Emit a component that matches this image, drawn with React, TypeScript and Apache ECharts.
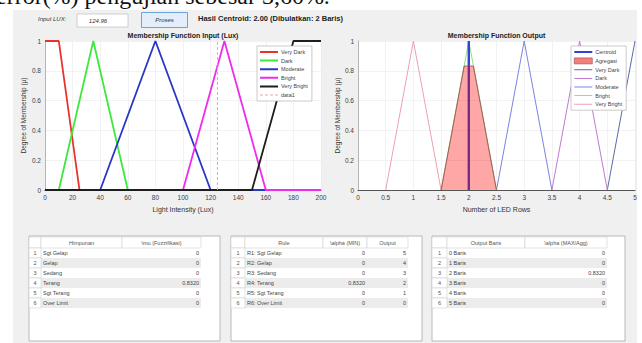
import React, { useEffect, useRef } from "react";
import * as echarts from "echarts";

const FONT = "'Liberation Sans', Arial, Helvetica, sans-serif";

// ---- Input membership functions (Lux) ----
const luxVeryDark = [[0, 1], [10, 1], [25, 0], [200, 0]];
const luxDark = [[0, 0], [10, 0], [35, 1], [60, 0], [200, 0]];
const luxModerate = [[0, 0], [40, 0], [80, 1], [120, 0], [200, 0]];
const luxBright = [[0, 0], [100, 0], [130, 1], [160, 0], [200, 0]];
const luxVeryBright = [[0, 0], [150, 0], [180, 1], [200, 1]];
const inputLux = 124.96;
const inputMarker = [[inputLux, 0], [inputLux, 1]];

// ---- Output membership functions (LED rows) ----
const outVeryDark = [[4.5, 0], [5, 1]];
const outDark = [[3.5, 0], [4, 1], [4.5, 0]];
const outModerate = [[2.5, 0], [3, 1], [3.5, 0]];
const outBright = [[1.5, 0], [2, 1], [2.5, 0]];
const outVeryBright = [[0.5, 0], [1, 1], [1.5, 0]];
const aggregate = [[1.5, 0], [1.916, 0.832], [2.084, 0.832], [2.5, 0]];
const centroidValue = 2.0;
const centroidLine = [[centroidValue, 0], [centroidValue, 1]];

// ---- Tables ----
const fuzzySets = ["Sgt Gelap", "Gelap", "Sedang", "Terang", "Sgt Terang", "Over Limit"];
const fuzzyMu = [0, 0, 0, 0.832, 0, 0];
const ruleNames = ["R1: Sgt Gelap", "R2: Gelap", "R3: Sedang", "R4: Terang", "R5: Sgt Terang", "R6: Over Limit"];
const ruleAlpha = [0, 0, 0, 0.832, 0, 0];
const ruleOutput = [5, 4, 3, 2, 1, 0];
const outputBaris = ["0 Baris", "1 Baris", "2 Baris", "3 Baris", "4 Baris", "5 Baris"];
const outputAlpha = [0, 0, 0.832, 0, 0, 0];

const fmt = (v: number) => (v === 0 ? "0" : v.toFixed(4));

// legend icons (bounding box 18 x 6, thin bar in the middle)
const lineIcon = (t: number) =>
  `path://M0,0h0.01v0.01h-0.01z M0,${3 - t / 2}h18v${t}h-18z M0,5.99h0.01v0.01h-0.01z`;
const dashIcon = `path://M0,0h0.01v0.01h-0.01z M0,2.5h3v1h-3z M5,2.5h3v1h-3z M10,2.5h3v1h-3z M15,2.5h3v1h-3z M0,5.99h0.01v0.01h-0.01z`;

function txt(x: number, y: number, text: string, opts: any = {}) {
  const align = opts.align || "left";
  const va = opts.va || "middle";
  return {
    type: "text",
    x,
    y,
    z: opts.z ?? 20,
    style: {
      text,
      fontSize: opts.size || 6,
      fontFamily: opts.family || FONT,
      fontWeight: opts.weight || "normal",
      fontStyle: opts.style || "normal",
      fill: opts.color || "#333",
      textAlign: align,
      align,
      textVerticalAlign: va,
      verticalAlign: va,
    },
  };
}

function rect(x: number, y: number, w: number, h: number, fill: string, stroke?: string, lw = 0.8, z = 15) {
  return {
    type: "rect",
    z,
    shape: { x, y, width: w, height: h },
    style: { fill, stroke: stroke || "none", lineWidth: lw },
  };
}

function buildTable(edges: number[], panelRight: number, headers: string[], cols: string[][], aligns: string[]) {
  const els: any[] = [];
  const top = 236;
  const bottom = 341;
  const headTop = 237;
  const headH = 11;
  const rowH = 10;
  els.push(rect(edges[0], top, panelRight - edges[0], bottom - top, "#ffffff", "#a8a8a8", 0.8, 12));
  for (let c = 0; c < edges.length - 1; c++) {
    els.push(rect(edges[c], headTop, edges[c + 1] - edges[c], headH, "#ffffff", "#d2d2d2", 0.6, 13));
    if (c > 0) {
      els.push(txt((edges[c] + edges[c + 1]) / 2, headTop + headH / 2, headers[c - 1], { align: "center", size: 5.5, color: "#555" }));
    }
  }
  const n = cols[0].length;
  for (let r = 0; r < n; r++) {
    const y = headTop + headH + r * rowH;
    if (r % 2 === 1) {
      els.push(rect(edges[1], y, edges[edges.length - 1] - edges[1], rowH, "#ececec", undefined, 0, 13));
    }
    els.push(rect(edges[0], y, edges[1] - edges[0], rowH, "#ffffff", "#d2d2d2", 0.6, 13));
    els.push(txt((edges[0] + edges[1]) / 2, y + rowH / 2, String(r + 1), { align: "center", size: 5.5, color: "#555" }));
    for (let c = 0; c < cols.length; c++) {
      const a = aligns[c];
      const x = a === "left" ? edges[c + 1] + 2 : edges[c + 2] - 2;
      els.push(txt(x, y + rowH / 2, cols[c][r], { align: a, size: 5.5, color: "#444" }));
    }
  }
  return els;
}

function lineSeries(name: string, data: number[][], color: string, axis: number, width: number, z = 2, extra: any = {}) {
  return {
    type: "line",
    name,
    xAxisIndex: axis,
    yAxisIndex: axis,
    data,
    symbol: "none",
    showSymbol: false,
    z,
    itemStyle: { color },
    lineStyle: { color, width, ...(extra.lineStyle || {}) },
    ...(extra.areaStyle ? { areaStyle: extra.areaStyle } : {}),
    animation: false,
  };
}

export default function App() {
  const ref = useRef<HTMLDivElement>(null);

  useEffect(() => {
    if (!ref.current) return;
    const chart = echarts.init(ref.current, undefined, { renderer: "svg", width: 642, height: 343 });

    const axisLabel = { fontSize: 6.5, color: "#404040", fontFamily: FONT, margin: 4 };
    const splitLine = { show: true, lineStyle: { color: "#e9e9e9", width: 0.6 } };
    const nameStyle = { fontSize: 7, color: "#333", fontFamily: FONT };

    const graphic: any[] = [];
    // top document text (cut off by the page edge, as in the reference)
    graphic.push(txt(-4, 8, "error(%) pengujian sebesar 3,60%.", { size: 24, family: "'Liberation Serif', 'Times New Roman', serif", color: "#111", va: "bottom", z: 5 }));
    // GUI controls
    graphic.push(txt(38, 18.5, "Input LUX:", { size: 6, style: "italic", color: "#333" }));
    graphic.push(rect(77, 14, 51, 13, "#ffffff", "#c4c4c4", 0.8));
    graphic.push(txt(98, 20.5, String(inputLux), { size: 6, style: "italic", color: "#333", align: "center" }));
    graphic.push(rect(141.5, 12.5, 46, 15, "#e3eefa", "#4d8fd1", 0.8));
    graphic.push(txt(164.5, 20, "Proses", { size: 6, style: "italic", color: "#333", align: "center" }));
    graphic.push(txt(198, 18, "Hasil Centroid: " + centroidValue.toFixed(2) + " (Dibulatkan: 2 Baris)", { size: 7.5, weight: "bold", color: "#222" }));
    // chart titles
    graphic.push(txt(183, 35.5, "Membership Function Input (Lux)", { size: 7, weight: "bold", color: "#222", align: "center" }));
    graphic.push(txt(496.5, 35.5, "Membership Function Output", { size: 7, weight: "bold", color: "#222", align: "center" }));
    // tables
    graphic.push(
      ...buildTable([29, 41, 122, 201], 220, ["Himpunan", "\\mu (Fuzzifikasi)"], [fuzzySets, fuzzyMu.map(fmt)], ["left", "right"])
    );
    graphic.push(
      ...buildTable([231, 245, 323, 367, 408], 422, ["Rule", "\\alpha (MIN)", "Output"], [ruleNames, ruleAlpha.map(fmt), ruleOutput.map(String)], ["left", "right", "right"])
    );
    graphic.push(
      ...buildTable([432, 447, 525, 607], 625, ["Output Baris", "\\alpha (MAX/Agg)"], [outputBaris, outputAlpha.map(fmt)], ["left", "right"])
    );

    const legendBase = {
      orient: "vertical",
      backgroundColor: "#ffffff",
      borderColor: "#b4b4b4",
      borderWidth: 0.7,
      padding: [3, 4, 3, 3],
      itemWidth: 18,
      itemHeight: 6,
      itemGap: 2.6,
      textStyle: { fontSize: 5.5, color: "#444", fontFamily: FONT, padding: [0, 0, 0, -2] },
      selectedMode: false,
    };

    const leftLegend = ["Very Dark", "Dark", "Moderate", "Bright", "Very Bright"].map((n) => ({ name: n, icon: lineIcon(2) }));
    leftLegend.push({ name: "data1", icon: dashIcon });

    const rightLegend: any[] = [
      { name: "Centroid", icon: lineIcon(2) },
      { name: "Agregasi", icon: "rect", itemStyle: { color: "#f38080", borderColor: "#9a4a4a", borderWidth: 0.6 } },
      ...["Very Dark", "Dark", "Moderate", "Bright", "Very Bright"].map((n) => ({ name: "out:" + n, icon: lineIcon(1) })),
    ];

    const option: any = {
      animation: false,
      backgroundColor: "transparent",
      textStyle: { fontFamily: FONT },
      grid: [
        { left: 45, top: 41, width: 276, height: 149, show: true, backgroundColor: "#ffffff", borderWidth: 0 },
        { left: 358, top: 41, width: 277, height: 149, show: true, backgroundColor: "#ffffff", borderWidth: 0 },
      ],
      xAxis: [
        {
          type: "value", gridIndex: 0, min: 0, max: 200, interval: 20,
          name: "Light Intensity (Lux)", nameLocation: "middle", nameGap: 16, nameTextStyle: nameStyle,
          axisLabel, splitLine, axisTick: { show: false },
          axisLine: { show: true, lineStyle: { color: "#333", width: 1 } },
        },
        {
          type: "value", gridIndex: 1, min: 0, max: 5, interval: 0.5,
          name: "Number of LED Rows", nameLocation: "middle", nameGap: 16, nameTextStyle: nameStyle,
          axisLabel, splitLine, axisTick: { show: false },
          axisLine: { show: true, lineStyle: { color: "#555", width: 1.2 } },
        },
      ],
      yAxis: [
        {
          type: "value", gridIndex: 0, min: 0, max: 1, interval: 0.2,
          name: "Degree of Membership (μ)", nameLocation: "middle", nameGap: 18, nameTextStyle: { ...nameStyle, fontSize: 6.5 },
          axisLabel, splitLine, axisTick: { show: false },
          axisLine: { show: true, lineStyle: { color: "#9a9a9a", width: 0.7 } },
        },
        {
          type: "value", gridIndex: 1, min: 0, max: 1, interval: 0.2,
          name: "Degree of Membership (μ)", nameLocation: "middle", nameGap: 16, nameTextStyle: { ...nameStyle, fontSize: 6.5 },
          axisLabel, splitLine, axisTick: { show: false },
          axisLine: { show: true, lineStyle: { color: "#9a9a9a", width: 0.7 } },
        },
      ],
      legend: [
        { ...legendBase, left: 257, top: 46, data: leftLegend },
        { ...legendBase, left: 571, top: 46, data: rightLegend, formatter: (name: string) => name.replace("out:", "") },
      ],
      series: [
        lineSeries("Very Dark", luxVeryDark, "#e8322c", 0, 1.8, 2),
        lineSeries("Dark", luxDark, "#3ee83e", 0, 1.8, 2),
        lineSeries("Moderate", luxModerate, "#2a36c4", 0, 1.8, 2),
        lineSeries("Bright", luxBright, "#ee2cee", 0, 1.8, 2),
        lineSeries("Very Bright", luxVeryBright, "#1e1e1e", 0, 1.8, 2),
        lineSeries("data1", inputMarker, "#f3a3a3", 0, 1, 3, { lineStyle: { type: [3, 2] } }),

        lineSeries("out:Very Dark", outVeryDark, "#5c6aa6", 1, 1, 2),
        lineSeries("out:Dark", outDark, "#c07ad2", 1, 1, 2),
        lineSeries("out:Moderate", outModerate, "#7a84de", 1, 1, 2),
        lineSeries("out:Bright", outBright, "#8fe08f", 1, 1, 2),
        lineSeries("out:Very Bright", outVeryBright, "#ef9fb0", 1, 1, 2),
        lineSeries("Centroid", centroidLine, "#2f43d6", 1, 2.4, 3),
        lineSeries("Agregasi", aggregate, "#9a4a4a", 1, 0.8, 4, { areaStyle: { color: "rgba(255,0,0,0.5)", origin: "start" } }),
      ],
      graphic,
    };

    chart.setOption(option);
    return () => chart.dispose();
  }, []);

  return (
    <div style={{ position: "fixed", left: 0, top: 0, width: 642, height: 343, overflow: "hidden", background: "#ffffff" }}>
      <div style={{ position: "absolute", left: 13, top: 10, width: 624, height: 333, background: "#f0f0f0" }} />
      <div ref={ref} style={{ position: "absolute", left: 0, top: 0, width: 642, height: 343 }} />
    </div>
  );
}
